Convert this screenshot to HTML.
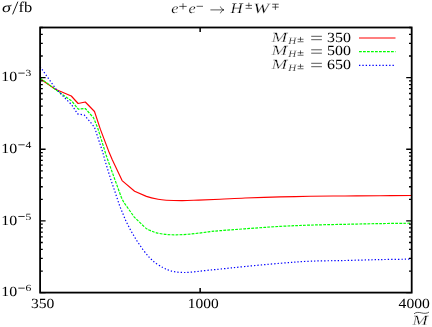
<!DOCTYPE html>
<html><head><meta charset="utf-8"><title>plot</title>
<style>
html,body{margin:0;padding:0;background:#fff;}
body{width:432px;height:327px;overflow:hidden;font-family:"Liberation Serif",serif;}
svg{display:block;}
text{font-family:"Liberation Serif",serif;fill:#000;text-rendering:geometricPrecision;}
svg{will-change:transform;}
.i{font-style:italic;}
.t{stroke:#fff;stroke-width:0.3;}
.t2{stroke:#fff;stroke-width:0.2;}
</style></head><body>
<svg width="432" height="327" viewBox="0 0 432 327">
<rect width="432" height="327" fill="#fff"/>
<path d="M40.10,78.75 L55.40,89.20 L71.30,96.00 L78.10,103.50 L85.30,102.00 L94.50,111.50 L100.40,129.40 L109.20,152.60 L112.40,160.00 L122.10,180.60 L134.60,191.25 L146.40,196.40 C150.32,197.74 154.80,198.67 158.10,199.30 C161.40,199.93 162.15,199.98 166.20,200.20 C170.25,200.42 177.00,200.62 182.40,200.60 C187.80,200.58 192.33,200.32 198.60,200.10 C204.87,199.88 212.27,199.65 220.00,199.30 C227.73,198.95 235.00,198.40 245.00,198.00 C255.00,197.60 269.17,197.18 280.00,196.90 C290.83,196.62 299.17,196.46 310.00,196.30 C320.83,196.14 333.33,196.05 345.00,195.95 C356.67,195.85 368.83,195.77 380.00,195.70 C391.17,195.62 406.67,195.53 412.00,195.50" fill="none" stroke="#ff0000" stroke-width="1.15" stroke-linejoin="round"/>
<path d="M40.10,78.00 L55.40,89.50 L71.80,101.10 L78.30,109.20 L85.30,108.50 L93.60,117.90 L97.70,128.00 L106.00,154.70 L107.80,160.00 L115.30,180.80 L121.40,197.50 L123.90,202.50 L134.30,217.10 L144.70,227.20 C147.32,229.42 148.03,229.47 150.00,230.40 C151.97,231.33 153.80,232.12 156.50,232.80 C159.20,233.48 162.95,234.12 166.20,234.45 C169.45,234.78 172.48,234.83 176.00,234.80 C179.52,234.78 183.53,234.58 187.30,234.30 C191.07,234.03 194.82,233.60 198.60,233.15 C202.38,232.70 206.43,232.01 210.00,231.60 C213.57,231.19 214.17,231.17 220.00,230.70 C225.83,230.23 235.00,229.52 245.00,228.80 C255.00,228.08 269.17,227.02 280.00,226.40 C290.83,225.78 299.17,225.45 310.00,225.10 C320.83,224.75 333.33,224.55 345.00,224.30 C356.67,224.05 368.83,223.78 380.00,223.60 C391.17,223.42 406.67,223.27 412.00,223.20" fill="none" stroke="#00ff00" stroke-width="1.2" stroke-dasharray="2.8,1.2" stroke-linejoin="round"/>
<path d="M40.10,66.60 L55.70,88.70 L71.60,104.70 L77.60,113.90 L84.40,115.10 L90.50,122.30 L94.50,127.30 L102.70,152.00 L104.80,160.00 L111.20,180.80 L114.40,190.00 L119.70,206.00 L126.00,221.25 L130.50,230.00 L136.60,240.40 L143.30,250.20 C145.45,253.05 147.45,255.37 149.50,257.50 C151.55,259.63 153.37,261.32 155.60,263.00 C157.83,264.68 160.83,266.45 162.90,267.60 C164.97,268.75 166.10,269.22 168.00,269.90 C169.90,270.58 171.63,271.27 174.30,271.70 C176.97,272.13 180.48,272.50 184.00,272.50 C187.52,272.50 191.62,272.05 195.40,271.70 C199.18,271.35 202.60,270.83 206.70,270.40 C210.80,269.97 213.62,269.75 220.00,269.10 C226.38,268.45 235.00,267.47 245.00,266.50 C255.00,265.53 269.17,264.18 280.00,263.30 C290.83,262.42 299.17,261.67 310.00,261.20 C320.83,260.73 333.33,260.77 345.00,260.50 C356.67,260.23 368.83,259.83 380.00,259.60 C391.17,259.37 406.67,259.18 412.00,259.10" fill="none" stroke="#0000ff" stroke-width="1.2" stroke-dasharray="1.35,2.0" stroke-linejoin="round"/>
<path d="M359,38 H395.5" stroke="#ff0000" stroke-width="1.15" fill="none"/>
<path d="M359,51.7 H395.5" stroke="#00ff00" stroke-width="1.2" stroke-dasharray="2.8,1.2" fill="none"/>
<path d="M359,65.45 H394.5" stroke="#0000ff" stroke-width="1.2" stroke-dasharray="1.35,2.0" fill="none"/>
<path d="M40.1,292.60h5.5M411.7,292.60h-5.5M40.1,271.03h2.7M411.7,271.03h-2.7M40.1,258.41h2.7M411.7,258.41h-2.7M40.1,249.45h2.7M411.7,249.45h-2.7M40.1,242.51h2.7M411.7,242.51h-2.7M40.1,236.83h2.7M411.7,236.83h-2.7M40.1,232.03h2.7M411.7,232.03h-2.7M40.1,227.88h2.7M411.7,227.88h-2.7M40.1,224.21h2.7M411.7,224.21h-2.7M40.1,220.93h5.5M411.7,220.93h-5.5M40.1,199.36h2.7M411.7,199.36h-2.7M40.1,186.74h2.7M411.7,186.74h-2.7M40.1,177.78h2.7M411.7,177.78h-2.7M40.1,170.84h2.7M411.7,170.84h-2.7M40.1,165.16h2.7M411.7,165.16h-2.7M40.1,160.36h2.7M411.7,160.36h-2.7M40.1,156.21h2.7M411.7,156.21h-2.7M40.1,152.54h2.7M411.7,152.54h-2.7M40.1,149.26h5.5M411.7,149.26h-5.5M40.1,127.69h2.7M411.7,127.69h-2.7M40.1,115.07h2.7M411.7,115.07h-2.7M40.1,106.11h2.7M411.7,106.11h-2.7M40.1,99.17h2.7M411.7,99.17h-2.7M40.1,93.49h2.7M411.7,93.49h-2.7M40.1,88.70h2.7M411.7,88.70h-2.7M40.1,84.54h2.7M411.7,84.54h-2.7M40.1,80.87h2.7M411.7,80.87h-2.7M40.1,77.59h5.5M411.7,77.59h-5.5M40.1,56.02h2.7M411.7,56.02h-2.7M40.1,43.40h2.7M411.7,43.40h-2.7M40.1,34.45h2.7M411.7,34.45h-2.7M40.1,27.50h2.7M411.7,27.50h-2.7" stroke="#000" stroke-width="1.3" fill="none"/>
<path d="M200.15,292.6v-4.5M200.15,27.5v4.5" stroke="#000" stroke-width="1.5" fill="none"/>
<rect x="40.1" y="27.5" width="371.59999999999997" height="265.1" fill="none" stroke="#000" stroke-width="1.8"/>
<text x="1.3" y="81.4" font-size="14" text-anchor="start" textLength="15.9" lengthAdjust="spacingAndGlyphs">10</text>
<path d="M18.3,73.14H24.7" stroke="#000" stroke-width="0.8" fill="none"/>
<text x="25.5" y="76.4" font-size="9.4" text-anchor="start" textLength="5.8" lengthAdjust="spacingAndGlyphs">3</text>
<text x="1.3" y="153.1" font-size="14" text-anchor="start" textLength="15.9" lengthAdjust="spacingAndGlyphs">10</text>
<path d="M18.3,144.81H24.7" stroke="#000" stroke-width="0.8" fill="none"/>
<text x="25.5" y="148.1" font-size="9.4" text-anchor="start" textLength="5.8" lengthAdjust="spacingAndGlyphs">4</text>
<text x="1.3" y="224.7" font-size="14" text-anchor="start" textLength="15.9" lengthAdjust="spacingAndGlyphs">10</text>
<path d="M18.3,216.48H24.7" stroke="#000" stroke-width="0.8" fill="none"/>
<text x="25.5" y="219.7" font-size="9.4" text-anchor="start" textLength="5.8" lengthAdjust="spacingAndGlyphs">5</text>
<text x="1.3" y="296.4" font-size="14" text-anchor="start" textLength="15.9" lengthAdjust="spacingAndGlyphs">10</text>
<path d="M18.3,288.15H24.7" stroke="#000" stroke-width="0.8" fill="none"/>
<text x="25.5" y="291.4" font-size="9.4" text-anchor="start" textLength="5.8" lengthAdjust="spacingAndGlyphs">6</text>
<text x="31.0" y="307.8" font-size="14" text-anchor="start" textLength="23.4" lengthAdjust="spacingAndGlyphs">350</text>
<text x="187.8" y="307.8" font-size="14" text-anchor="start" textLength="30.9" lengthAdjust="spacingAndGlyphs">1000</text>
<text x="398.6" y="307.8" font-size="14" text-anchor="start" textLength="31.2" lengthAdjust="spacingAndGlyphs">4000</text>
<text x="1.9" y="11.6" font-size="14" text-anchor="start" class="i" textLength="9.0" lengthAdjust="spacingAndGlyphs">σ</text>
<path d="M17.9,1.6 L12.6,14.4" stroke="#000" stroke-width="0.9" fill="none"/>
<text x="18.6" y="11.6" font-size="14.8" text-anchor="start" textLength="13.7" lengthAdjust="spacingAndGlyphs">fb</text>
<text x="171.3" y="13.4" font-size="14.2" text-anchor="start" class="i t2" textLength="7.2" lengthAdjust="spacingAndGlyphs">e</text>
<path d="M179.3,6.4H186.7M183,3.3V9.4" stroke="#000" stroke-width="0.65" fill="none"/>
<text x="188.4" y="13.4" font-size="14.2" text-anchor="start" class="i t2" textLength="7.2" lengthAdjust="spacingAndGlyphs">e</text>
<path d="M196.6,6.3H203" stroke="#000" stroke-width="0.65" fill="none"/>
<path d="M210.4,9.9H223.6M220.4,6.5C221,8.3 222.3,9.4 224,9.9C222.3,10.4 221,11.5 220.4,13.3" stroke="#000" stroke-width="0.65" fill="none"/>
<text x="230.6" y="13.4" font-size="14.5" text-anchor="start" class="i t2" textLength="12.2" lengthAdjust="spacingAndGlyphs">H</text>
<path d="M245.6,5.4H252M248.85,2.7V7.4M245.6,8.3H252" stroke="#000" stroke-width="0.65" fill="none"/>
<text x="253.2" y="13.3" font-size="14.3" text-anchor="start" class="i t2" textLength="16.0" lengthAdjust="spacingAndGlyphs">W</text>
<path d="M272.2,4.2H278.7M272.2,7.1H278.7M275.4,4.2V9.9" stroke="#000" stroke-width="0.65" fill="none"/>
<text x="271.6" y="41.6" font-size="14" text-anchor="start" class="i t" textLength="15.8" lengthAdjust="spacingAndGlyphs">M</text>
<text x="288.2" y="43.5" font-size="9.6" text-anchor="start" class="i t2" textLength="8.0" lengthAdjust="spacingAndGlyphs">H</text>
<path d="M297.6,39.25H303.5M300.5,36.90V40.90M297.6,41.75H303.5" stroke="#000" stroke-width="0.6" fill="none"/>
<path d="M311.2,36.30H321.9M311.2,39.70H321.9" stroke="#000" stroke-width="0.65" fill="none"/>
<text x="327.0" y="41.6" font-size="14" text-anchor="start" textLength="23.9" lengthAdjust="spacingAndGlyphs">350</text>
<text x="271.6" y="55.1" font-size="14" text-anchor="start" class="i t" textLength="15.8" lengthAdjust="spacingAndGlyphs">M</text>
<text x="288.2" y="57.0" font-size="9.6" text-anchor="start" class="i t2" textLength="8.0" lengthAdjust="spacingAndGlyphs">H</text>
<path d="M297.6,52.75H303.5M300.5,50.40V54.40M297.6,55.25H303.5" stroke="#000" stroke-width="0.6" fill="none"/>
<path d="M311.2,49.80H321.9M311.2,53.20H321.9" stroke="#000" stroke-width="0.65" fill="none"/>
<text x="327.0" y="55.1" font-size="14" text-anchor="start" textLength="23.9" lengthAdjust="spacingAndGlyphs">500</text>
<text x="271.6" y="68.6" font-size="14" text-anchor="start" class="i t" textLength="15.8" lengthAdjust="spacingAndGlyphs">M</text>
<text x="288.2" y="70.5" font-size="9.6" text-anchor="start" class="i t2" textLength="8.0" lengthAdjust="spacingAndGlyphs">H</text>
<path d="M297.6,66.25H303.5M300.5,63.90V67.90M297.6,68.75H303.5" stroke="#000" stroke-width="0.6" fill="none"/>
<path d="M311.2,63.30H321.9M311.2,66.70H321.9" stroke="#000" stroke-width="0.65" fill="none"/>
<text x="327.0" y="68.6" font-size="14" text-anchor="start" textLength="23.9" lengthAdjust="spacingAndGlyphs">650</text>
<text x="412.2" y="325.2" font-size="14" text-anchor="start" class="i t" textLength="15.6" lengthAdjust="spacingAndGlyphs">M</text>
<path d="M414,313.8 C416,312.0 419,312.2 421.5,312.9 C424,313.6 427,313.6 429,312.1" stroke="#000" stroke-width="0.65" fill="none"/>
</svg></body></html>
